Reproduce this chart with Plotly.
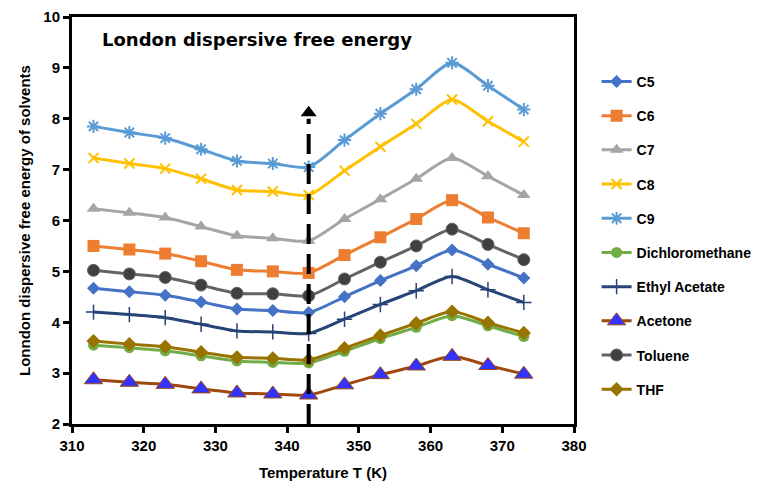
import plotly.graph_objects as go

temps = [313, 318, 323, 328, 333, 338, 343, 348, 353, 358, 363, 368, 373]

c5 = [4.67, 4.60, 4.53, 4.40, 4.26, 4.23, 4.19, 4.50, 4.82, 5.11, 5.42, 5.14, 4.87]
c6 = [5.50, 5.43, 5.35, 5.20, 5.03, 5.00, 4.97, 5.32, 5.67, 6.03, 6.40, 6.06, 5.75]
c7 = [6.23, 6.15, 6.06, 5.88, 5.70, 5.65, 5.60, 6.03, 6.42, 6.82, 7.23, 6.87, 6.50]
c8 = [7.23, 7.12, 7.02, 6.82, 6.60, 6.57, 6.50, 6.98, 7.45, 7.90, 8.38, 7.95, 7.55]
c9 = [7.85, 7.73, 7.62, 7.40, 7.17, 7.12, 7.05, 7.58, 8.10, 8.58, 9.10, 8.65, 8.18]
dcm = [3.55, 3.50, 3.44, 3.34, 3.24, 3.21, 3.20, 3.43, 3.68, 3.90, 4.13, 3.93, 3.72]
ethyl = [4.20, 4.15, 4.09, 3.96, 3.83, 3.81, 3.78, 4.06, 4.35, 4.62, 4.90, 4.64, 4.39]
acetone = [2.87, 2.82, 2.78, 2.69, 2.61, 2.59, 2.57, 2.77, 2.97, 3.14, 3.33, 3.15, 2.98]
toluene = [5.02, 4.95, 4.88, 4.73, 4.57, 4.56, 4.52, 4.85, 5.18, 5.50, 5.83, 5.53, 5.23]
thf = [3.63, 3.57, 3.52, 3.41, 3.31, 3.29, 3.26, 3.49, 3.74, 3.98, 4.21, 3.99, 3.79]

arrow_x = [343, 343]
arrow_y = [2.0, 8.0]
arrow_head_y = 8.12

series = [
    ("C5", c5, "#4472C4", dict(symbol="diamond", size=10, color="#4472C4")),
    ("C6", c6, "#ED7D31", dict(symbol="square", size=12, color="#ED7D31")),
    ("C7", c7, "#A5A5A5", dict(symbol="triangle-up", size=12, color="#A5A5A5")),
    ("C8", c8, "#FFC000", dict(symbol="x-thin", size=10, color="#FFC000", line=dict(width=2, color="#FFC000"))),
    ("C9", c9, "#5B9BD5", dict(symbol="asterisk", size=11, color="#5B9BD5", line=dict(width=2, color="#5B9BD5"))),
    ("Dichloromethane", dcm, "#70AD47", dict(symbol="circle", size=11, color="#70AD47")),
    ("Ethyl Acetate", ethyl, "#264478", dict(symbol="cross-thin", size=11, color="#264478", line=dict(width=1.5, color="#264478"))),
    ("Acetone", acetone, "#9E480E", dict(symbol="triangle-up", size=16, color="#3333FF", line=dict(width=1, color="#9E480E"))),
    ("Toluene", toluene, "#636363", dict(symbol="circle", size=12, color="#404040", line=dict(width=1, color="#636363"))),
    ("THF", thf, "#997300", dict(symbol="diamond", size=11, color="#997300")),
]

fig = go.Figure()
for i, (name, ys, col, mk) in enumerate(series):
    fig.add_trace(go.Scatter(
        x=temps, y=ys, name=name, mode="lines+markers",
        line=dict(color=col, width=3, shape="spline", smoothing=0.7),
        marker=mk, legendgroup=f"g{i}",
    ))

# dashed arrow
fig.add_trace(go.Scatter(
    x=arrow_x, y=arrow_y, mode="lines", showlegend=False, hoverinfo="skip",
    line=dict(color="black", width=4, dash="20px,10px"),
))
fig.add_trace(go.Scatter(
    x=[arrow_x[0]], y=[arrow_head_y], mode="markers", showlegend=False, hoverinfo="skip",
    marker=dict(symbol="triangle-up", size=14, color="black"),
))

font_family = "Liberation Sans, Arial, sans-serif"

fig.add_annotation(
    x=0.055, y=0.975, xref="paper", yref="paper", xanchor="left", yanchor="top",
    text="<b>London dispersive free energy</b>", showarrow=False,
    font=dict(family="DejaVu Sans, sans-serif", size=18, color="black"),
)

fig.update_layout(
    width=779, height=481,
    margin=dict(l=72, r=205, t=17, b=57, autoexpand=False),
    plot_bgcolor="white", paper_bgcolor="white",
    font=dict(family=font_family, size=14, color="black"),
    showlegend=True,
    legend=dict(
        x=1.045, y=0.88, xanchor="left", yanchor="top",
        font=dict(family=font_family, size=14, color="black", weight="bold"),
        tracegroupgap=13, bgcolor="rgba(0,0,0,0)",
    ),
)
fig.update_xaxes(
    range=[310, 380], dtick=10, showgrid=False, zeroline=False,
    showline=True, linecolor="black", linewidth=3, mirror=True,
    ticks="outside", ticklen=6, tickwidth=3, tickcolor="black",
    tickfont=dict(size=15, weight="bold"), automargin=False,
    title=dict(text="<b>Temperature T (K)</b>", font=dict(size=15), standoff=22),
)
fig.update_yaxes(
    range=[2, 10], dtick=1, showgrid=False, zeroline=False,
    showline=True, linecolor="black", linewidth=3, mirror=True,
    ticks="outside", ticklen=6, tickwidth=3, tickcolor="black",
    tickfont=dict(size=15, weight="bold"), automargin=False,
    title=dict(text="<b>Lonndon dispersive free energy of solvents</b>", font=dict(size=15), standoff=10),
)

fig.write_html("out.html")
